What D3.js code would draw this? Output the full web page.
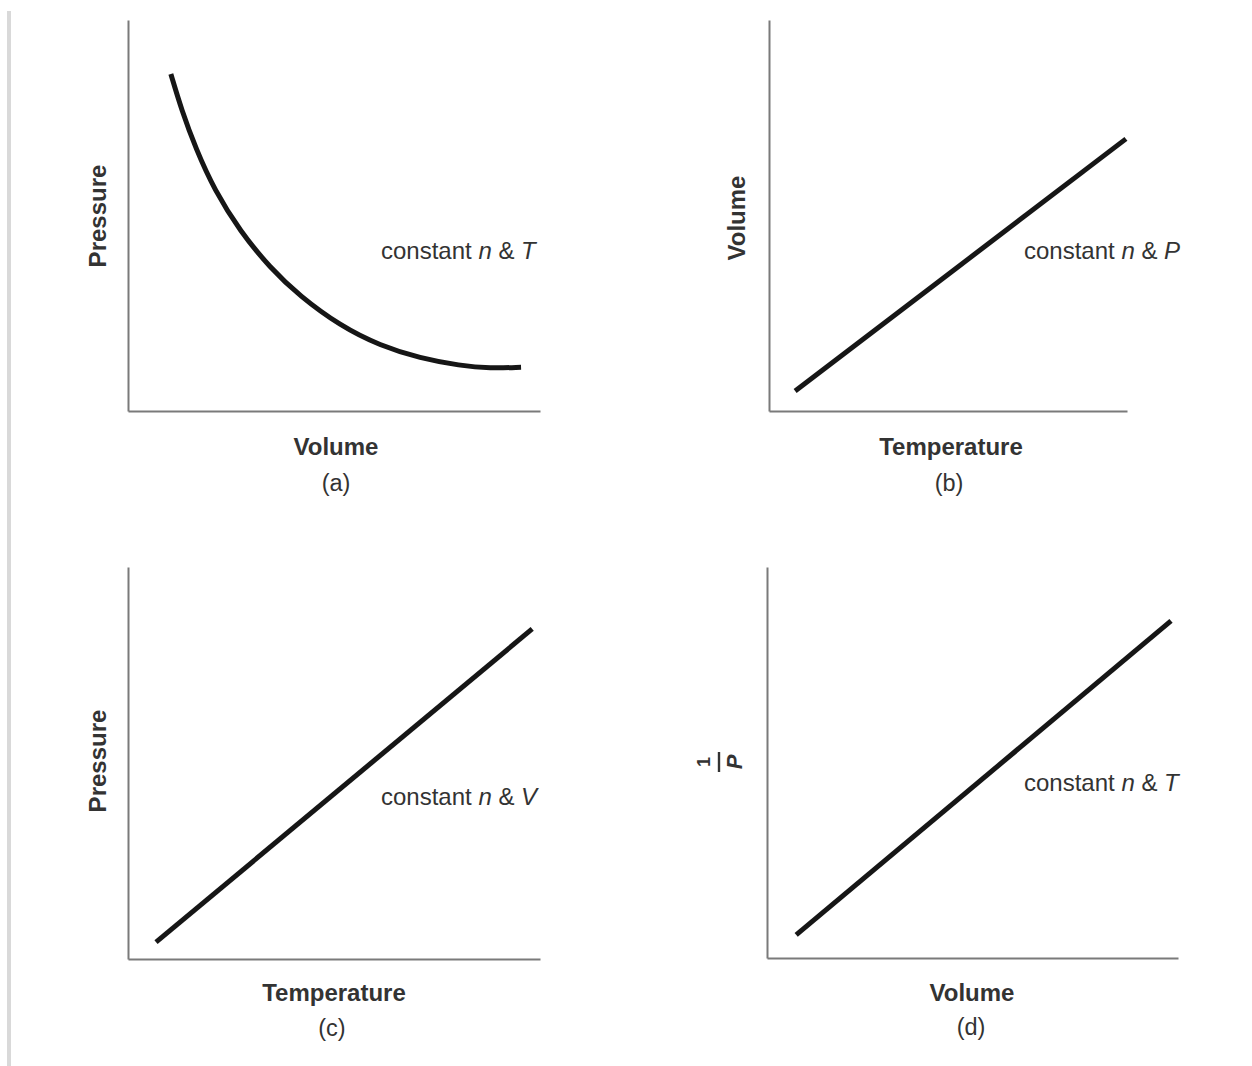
<!DOCTYPE html>
<html>
<head>
<meta charset="utf-8">
<script src="https://cdn.jsdelivr.net/npm/d3@7"></script>
<style>
  html, body { margin: 0; padding: 0; background: #fff; }
  svg { display: block; }
  text { font-family: "Liberation Sans", Arial, sans-serif; fill: #333; }
</style>
</head>
<body>
<svg id="chart" width="1252" height="1066"></svg>
<script>
// ---- Data (arbitrary units, 0-100 on each axis) ----
const panelIds = ["a", "b", "c", "d"];
const xTitles = ["Volume", "Temperature", "Temperature", "Volume"];
const yTitles = ["Pressure", "Volume", "Pressure", "1/P"];
const constantVars = ["T", "P", "V", "T"];

// (a) Boyle's law: pressure vs volume
const curveA_x = [10.4, 13.0, 16.5, 21.0, 27.2, 34.5, 41.7, 51.5, 61.2, 70.9, 80.6, 87.9, 95.4];
const curveA_y = [86.2, 77.0, 67.0, 56.5, 46.0, 36.6, 29.4, 21.8, 16.7, 13.5, 11.6, 10.9, 11.2];
// (b) Charles's law: volume vs temperature
const lineB_x = [7.3, 99.7];
const lineB_y = [5.1, 69.6];
// (c) Amontons's law: pressure vs temperature
const lineC_x = [6.8, 98.1];
const lineC_y = [4.3, 84.2];
// (d) 1/P vs volume
const lineD_x = [7.1, 98.3];
const lineD_y = [5.9, 86.2];

const seriesX = [curveA_x, lineB_x, lineC_x, lineD_x];
const seriesY = [curveA_y, lineB_y, lineC_y, lineD_y];

// ---- Layout ----
const frames = [
  {left: 128, right: 540, top: 20, bottom: 411, ytx: 106, labelX: 381, labelY: 259, tOff: 44, sOff: 80},
  {left: 769, right: 1127, top: 20, bottom: 411, ytx: 745, labelX: 1024, labelY: 259, tOff: 44, sOff: 80},
  {left: 128, right: 540, top: 567, bottom: 959, ytx: 106, labelX: 381, labelY: 805, tOff: 42, sOff: 77},
  {left: 767, right: 1178, top: 567, bottom: 958, ytx: 745, labelX: 1024, labelY: 791, tOff: 43, sOff: 77}
];
const yTitleCenters = [216, 218, 761, 762];
const xTitleCenters = [336, 951, 334, 972];
const subCenters = [336, 949, 332, 971];

const svg = d3.select("#chart");

// left gray bar
svg.append("rect").attr("x", 7).attr("y", 11).attr("width", 4).attr("height", 1055).attr("fill", "#d9d9d9");

panelIds.forEach((id, i) => {
  const f = frames[i];
  const x = d3.scaleLinear().domain([0, 100]).range([f.left, f.right]);
  const y = d3.scaleLinear().domain([0, 100]).range([f.bottom, f.top]);
  const g = svg.append("g");

  // axes
  const xAxis = g.append("g").attr("transform", `translate(0,${f.bottom})`)
    .call(d3.axisBottom(x).ticks(0).tickSize(0));
  const yAxis = g.append("g").attr("transform", `translate(${f.left},0)`)
    .call(d3.axisLeft(y).ticks(0).tickSize(0));
  [xAxis, yAxis].forEach(a => a.select(".domain").attr("stroke", "#7a7a7a").attr("stroke-width", 2));

  // data line
  const pts = seriesX[i].map((v, k) => [v, seriesY[i][k]]);
  const line = d3.line().x(d => x(d[0])).y(d => y(d[1]))
    .curve(i === 0 ? d3.curveBasis : d3.curveLinear);
  g.append("path").datum(pts).attr("d", line)
    .attr("fill", "none").attr("stroke", "#161616").attr("stroke-width", 5)
    .attr("stroke-linecap", "butt");

  // x title
  g.append("text").attr("x", xTitleCenters[i]).attr("y", f.bottom + f.tOff)
    .attr("text-anchor", "middle").attr("font-weight", "bold").attr("font-size", 24)
    .text(xTitles[i]);
  // sub label
  g.append("text").attr("x", subCenters[i]).attr("y", f.bottom + f.sOff)
    .attr("text-anchor", "middle").attr("font-size", 23.5)
    .text(`(${id})`);

  // y title
  if (yTitles[i] === "1/P") {
    const fg = g.append("g").attr("transform", `translate(719,${yTitleCenters[i]}) rotate(-90)`);
    fg.append("text").attr("x", 0).attr("y", -9).attr("text-anchor", "middle")
      .attr("font-weight", "bold").attr("font-size", 18).text("1");
    fg.append("line").attr("x1", -10).attr("x2", 10).attr("y1", 0).attr("y2", 0)
      .attr("stroke", "#333").attr("stroke-width", 2.4);
    fg.append("text").attr("x", 0).attr("y", 23).attr("text-anchor", "middle")
      .attr("font-weight", "bold").attr("font-style", "italic").attr("font-size", 22).text("P");
  } else {
    g.append("text")
      .attr("transform", `translate(${f.ytx},${yTitleCenters[i]}) rotate(-90)`)
      .attr("text-anchor", "middle").attr("font-weight", "bold").attr("font-size", 24)
      .text(yTitles[i]);
  }

  // "constant n & X" label
  const t = g.append("text").attr("x", f.labelX).attr("y", f.labelY).attr("font-size", 24);
  t.append("tspan").text("constant ");
  t.append("tspan").attr("font-style", "italic").text("n");
  t.append("tspan").text(" & ");
  t.append("tspan").attr("font-style", "italic").text(constantVars[i]);
});
</script>
</body>
</html>
